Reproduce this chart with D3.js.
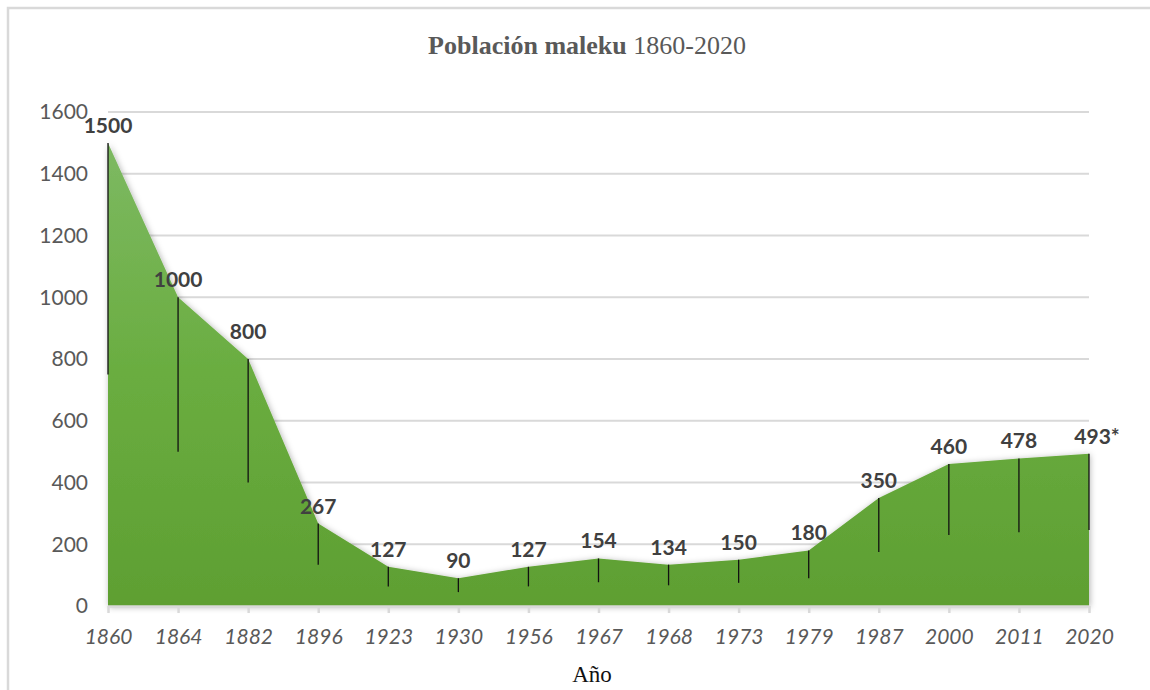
<!DOCTYPE html>
<html>
<head>
<meta charset="utf-8">
<script src="https://cdn.jsdelivr.net/npm/d3@7"></script>
<style>
  body { margin: 0; background: #fff; }
  svg { display: block; }
</style>
</head>
<body>
<div id="chart"></div>
<script>
// data
const years = ["1860", "1864", "1882", "1896", "1923", "1930", "1956", "1967", "1968", "1973", "1979", "1987", "2000", "2011", "2020"];
const population = [1500, 1000, 800, 267, 127, 90, 127, 154, 134, 150, 180, 350, 460, 478, 493];
const valueLabels = ["1500", "1000", "800", "267", "127", "90", "127", "154", "134", "150", "180", "350", "460", "478", "493*"];
const yTicks = [0, 200, 400, 600, 800, 1000, 1200, 1400, 1600];

const width = 1150, height = 690;
const margin = { top: 112, right: 61, bottom: 84, left: 108 };

const svg = d3.select("#chart").append("svg")
    .attr("width", width)
    .attr("height", height);

// chart frame (only top and left show)
svg.append("path")
    .attr("d", "M8,690 V8 H1150")
    .attr("fill", "none")
    .attr("stroke", "#d9d9d9")
    .attr("stroke-width", 2.5);

const x = d3.scalePoint()
    .domain(years)
    .range([margin.left, width - margin.right]);

const y = d3.scaleLinear()
    .domain([0, 1600])
    .range([height - margin.bottom, margin.top]);

const defs = svg.append("defs");
const grad = defs.append("linearGradient")
    .attr("id", "areaGrad")
    .attr("x1", 0).attr("y1", 0).attr("x2", 0).attr("y2", 1);
grad.append("stop").attr("offset", "0%").attr("stop-color", "#7db962");
grad.append("stop").attr("offset", "50%").attr("stop-color", "#6aad40");
grad.append("stop").attr("offset", "100%").attr("stop-color", "#5e9f32");

const shadow = defs.append("filter")
    .attr("id", "shadow")
    .attr("x", "-10%").attr("y", "-10%")
    .attr("width", "120%").attr("height", "120%");
shadow.append("feDropShadow")
    .attr("dx", 1).attr("dy", 1)
    .attr("stdDeviation", 3)
    .attr("flood-color", "#000")
    .attr("flood-opacity", 0.3);

// gridlines
svg.append("g")
    .selectAll("line")
    .data(yTicks.filter(d => d > 0))
    .join("line")
    .attr("x1", x.range()[0])
    .attr("x2", x.range()[1])
    .attr("y1", d => y(d))
    .attr("y2", d => y(d))
    .attr("stroke", "#d9d9d9")
    .attr("stroke-width", 2);

// area
const area = d3.area()
    .x((d, i) => x(years[i]))
    .y0(y(0))
    .y1(d => y(d));

svg.append("path")
    .datum(population)
    .attr("d", area)
    .attr("fill", "url(#areaGrad)")
    .attr("filter", "url(#shadow)");

// drop lines: value down to half value
svg.append("g")
    .selectAll("line")
    .data(population)
    .join("line")
    .attr("x1", (d, i) => x(years[i]))
    .attr("x2", (d, i) => x(years[i]))
    .attr("y1", d => y(d))
    .attr("y2", d => y(d / 2))
    .attr("stroke", "#111")
    .attr("stroke-width", 1.3);

// x axis
const xAxis = svg.append("g")
    .attr("transform", `translate(0,${y(0)})`)
    .call(d3.axisBottom(x).tickSize(7).tickPadding(16));
xAxis.select(".domain").attr("stroke", "#d9d9d9").attr("stroke-width", 2.5)
    .attr("d", `M${x.range()[0]},0.5H${x.range()[1]}`);
xAxis.selectAll(".tick line").attr("stroke", "#d9d9d9").attr("stroke-width", 2.5);
xAxis.selectAll(".tick text")
    .attr("fill", "#595959")
    .style("font-family", "Lato, 'Open Sans', sans-serif")
    .style("font-style", "italic")
    .style("font-size", "21px");

// y axis labels
svg.append("g")
    .selectAll("text")
    .data(yTicks)
    .join("text")
    .attr("x", 88)
    .attr("y", d => y(d))
    .attr("dy", "0.35em")
    .attr("text-anchor", "end")
    .attr("fill", "#595959")
    .style("font-family", "Lato, 'Open Sans', sans-serif")
    .style("font-size", "21px")
    .text(d => d);

// value labels
svg.append("g")
    .selectAll("text")
    .data(population)
    .join("text")
    .attr("x", (d, i) => x(years[i]) + (i === years.length - 1 ? 8 : 0))
    .attr("y", (d, i) => y(d) - (i === 2 ? 20 : 10))
    .attr("text-anchor", "middle")
    .attr("fill", "#404040")
    .style("font-family", "Lato, 'Open Sans', sans-serif")
    .style("font-weight", "bold")
    .style("font-size", "21px")
    .text((d, i) => valueLabels[i]);

// title
const title = svg.append("text")
    .attr("x", 587)
    .attr("y", 54)
    .attr("text-anchor", "middle")
    .attr("fill", "#595959")
    .style("font-family", "'Liberation Serif', 'Times New Roman', serif")
    .style("font-size", "26px");
title.append("tspan").style("font-weight", "bold").text("Población maleku ");
title.append("tspan").text("1860-2020");

// x axis title
svg.append("text")
    .attr("x", 592)
    .attr("y", 682)
    .attr("text-anchor", "middle")
    .attr("fill", "#111")
    .style("font-family", "'Liberation Serif', 'Times New Roman', serif")
    .style("font-size", "23px")
    .text("Año");
</script>
</body>
</html>
